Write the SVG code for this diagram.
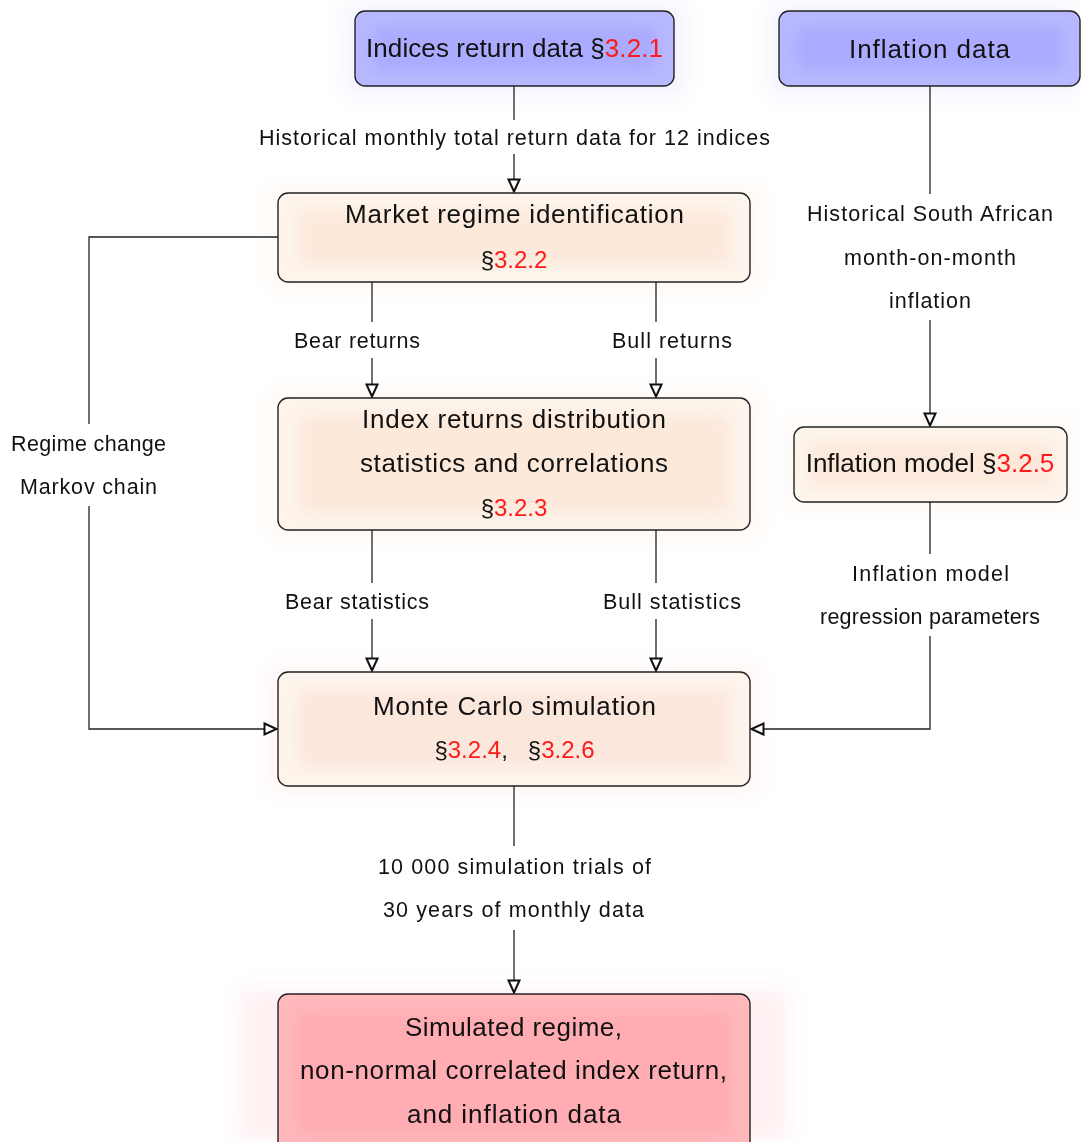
<svg xmlns="http://www.w3.org/2000/svg" width="1081" height="1142" viewBox="0 0 1081 1142">
  <defs>
    <style>
      .ntext { font-family: "Liberation Sans", Arial, sans-serif; font-size: 26px; fill: #111; text-anchor: middle; }
      .stext { font-family: "Liberation Sans", Arial, sans-serif; font-size: 24px; fill: #111; text-anchor: middle; }
      .ltext { font-family: "Liberation Sans", Arial, sans-serif; font-size: 21.5px; fill: #111; text-anchor: middle; }
      .ref { fill: #ff1a1a; }
      .wire { fill: none; stroke: #222; stroke-width: 1.3; }
      .edge { fill: none; stroke: #222; stroke-width: 1.4; }
      .lbg { fill: #ffffff; }
    </style>
    <filter id="soft" x="-20%" y="-40%" width="140%" height="180%">
      <feGaussianBlur stdDeviation="10"/>
    </filter>
    <filter id="inner" x="-5%" y="-10%" width="110%" height="120%">
      <feGaussianBlur stdDeviation="7"/>
    </filter>
    <marker id="tri" viewBox="0 0 16 16" refX="14.5" refY="8" markerWidth="16" markerHeight="16" markerUnits="userSpaceOnUse" orient="auto">
      <path d="M2,2.5 L14,8 L2,13.5 Z" fill="#fff" stroke="#111" stroke-width="2" stroke-linejoin="miter"/>
    </marker>
  </defs>

  <rect width="1081" height="1142" fill="#ffffff"/>

  <!-- soft colour haze around the boxes -->
  <g opacity="0.22">
    <rect x="345" y="5" width="340" height="90" fill="#c8c8ff" filter="url(#soft)"/>
    <rect x="770" y="5" width="311" height="90" fill="#c8c8ff" filter="url(#soft)"/>
    <rect x="268" y="185" width="492" height="105" fill="#fde2cc" filter="url(#soft)"/>
    <rect x="268" y="390" width="492" height="148" fill="#fde2cc" filter="url(#soft)"/>
    <rect x="785" y="420" width="290" height="90" fill="#fde2cc" filter="url(#soft)"/>
    <rect x="268" y="664" width="492" height="130" fill="#fcd8d0" filter="url(#soft)"/>
    <rect x="240" y="988" width="548" height="154" fill="#ffc0c8" filter="url(#soft)"/>
  </g>

  <!-- connectors -->
  <g id="connectors">
    <path class="wire" d="M514,86 V192" marker-end="url(#tri)"/>
    <path class="wire" d="M930,86 V426" marker-end="url(#tri)"/>
    <path class="wire" d="M372,282 V397" marker-end="url(#tri)"/>
    <path class="wire" d="M656,282 V397" marker-end="url(#tri)"/>
    <path class="wire" d="M372,530 V671" marker-end="url(#tri)"/>
    <path class="wire" d="M656,530 V671" marker-end="url(#tri)"/>
    <path class="wire" d="M278,237 H89 V729 H277" marker-end="url(#tri)"/>
    <path class="wire" d="M930,502 V729 H751" marker-end="url(#tri)"/>
    <path class="wire" d="M514,786 V993" marker-end="url(#tri)"/>

    <!-- label backgrounds break the wires -->
    <rect class="lbg" x="254" y="120" width="521" height="34"/>
    <rect class="lbg" x="802" y="194" width="256" height="126"/>
    <rect class="lbg" x="289" y="322" width="136" height="36"/>
    <rect class="lbg" x="607" y="322" width="130" height="36"/>
    <rect class="lbg" x="280" y="583" width="154" height="36"/>
    <rect class="lbg" x="598" y="583" width="148" height="36"/>
    <rect class="lbg" x="6" y="424" width="166" height="82"/>
    <rect class="lbg" x="815" y="554" width="230" height="82"/>
    <rect class="lbg" x="373" y="846" width="283" height="84"/>

    <text class="ltext" x="514.5" y="145" textLength="511" lengthAdjust="spacing">Historical monthly total return data for 12 indices</text>
    <text class="ltext" x="930" y="221" textLength="246" lengthAdjust="spacing">Historical South African</text>
    <text class="ltext" x="930" y="265" textLength="172" lengthAdjust="spacing">month-on-month</text>
    <text class="ltext" x="930" y="308" textLength="82" lengthAdjust="spacing">inflation</text>
    <text class="ltext" x="357" y="348" textLength="126" lengthAdjust="spacing">Bear returns</text>
    <text class="ltext" x="672" y="348" textLength="120" lengthAdjust="spacing">Bull returns</text>
    <text class="ltext" x="357" y="609" textLength="144" lengthAdjust="spacing">Bear statistics</text>
    <text class="ltext" x="672" y="609" textLength="138" lengthAdjust="spacing">Bull statistics</text>
    <text class="ltext" x="88.5" y="451" textLength="155" lengthAdjust="spacing">Regime change</text>
    <text class="ltext" x="88.5" y="494" textLength="137" lengthAdjust="spacing">Markov chain</text>
    <text class="ltext" x="930.5" y="581" textLength="157" lengthAdjust="spacing">Inflation model</text>
    <text class="ltext" x="930" y="624" textLength="220" lengthAdjust="spacing">regression parameters</text>
    <text class="ltext" x="514.5" y="874" textLength="273" lengthAdjust="spacing">10 000 simulation trials of</text>
    <text class="ltext" x="513.5" y="917" textLength="261" lengthAdjust="spacing">30 years of monthly data</text>
  </g>

  <!-- data sources -->
  <g id="indices-data">
    <rect x="355" y="11" width="319" height="75" rx="10" fill="#b8b8ff"/>
    <rect x="372" y="26" width="285" height="45" rx="8" fill="#a6a6ff" opacity="0.7" filter="url(#inner)"/>
    <rect class="edge" x="355" y="11" width="319" height="75" rx="10"/>
    <text class="ntext" x="514.5" y="57" textLength="297" lengthAdjust="spacing">Indices return data §<tspan class="ref">3.2.1</tspan></text>
  </g>

  <g id="inflation-data">
    <rect x="779" y="11" width="301" height="75" rx="10" fill="#b8b8ff"/>
    <rect x="796" y="26" width="267" height="45" rx="8" fill="#a6a6ff" opacity="0.7" filter="url(#inner)"/>
    <rect class="edge" x="779" y="11" width="301" height="75" rx="10"/>
    <text class="ntext" x="929.5" y="58" textLength="161" lengthAdjust="spacing">Inflation data</text>
  </g>

  <!-- processing steps -->
  <g id="regime-identification">
    <rect x="278" y="193" width="472" height="89" rx="10" fill="#fdf4ec"/>
    <rect x="298" y="210" width="432" height="55" rx="8" fill="#fbdcc6" opacity="0.45" filter="url(#inner)"/>
    <rect class="edge" x="278" y="193" width="472" height="89" rx="10"/>
    <text class="ntext" x="514.5" y="223" textLength="339" lengthAdjust="spacing">Market regime identification</text>
    <text class="stext" x="514" y="268">§<tspan class="ref">3.2.2</tspan></text>
  </g>

  <g id="return-statistics">
    <rect x="278" y="398" width="472" height="132" rx="10" fill="#fdf4ec"/>
    <rect x="298" y="415" width="432" height="98" rx="8" fill="#fbdcc6" opacity="0.45" filter="url(#inner)"/>
    <rect class="edge" x="278" y="398" width="472" height="132" rx="10"/>
    <text class="ntext" x="514" y="428" textLength="304" lengthAdjust="spacing">Index returns distribution</text>
    <text class="ntext" x="514" y="472" textLength="308" lengthAdjust="spacing">statistics and correlations</text>
    <text class="stext" x="514" y="516">§<tspan class="ref">3.2.3</tspan></text>
  </g>

  <g id="inflation-model">
    <rect x="794" y="427" width="273" height="75" rx="10" fill="#fdf4ec"/>
    <rect x="810" y="442" width="241" height="45" rx="8" fill="#fbdcc6" opacity="0.45" filter="url(#inner)"/>
    <rect class="edge" x="794" y="427" width="273" height="75" rx="10"/>
    <text class="ntext" x="930" y="472">Inflation model §<tspan class="ref">3.2.5</tspan></text>
  </g>

  <g id="monte-carlo">
    <rect x="278" y="672" width="472" height="114" rx="10" fill="#fdf4ec"/>
    <rect x="298" y="690" width="432" height="78" rx="8" fill="#fbd8cc" opacity="0.45" filter="url(#inner)"/>
    <rect class="edge" x="278" y="672" width="472" height="114" rx="10"/>
    <text class="ntext" x="514.5" y="715" textLength="283" lengthAdjust="spacing">Monte Carlo simulation</text>
    <text class="stext" x="514.5" y="758" xml:space="preserve">§<tspan class="ref">3.2.4</tspan>,   §<tspan class="ref">3.2.6</tspan></text>
  </g>

  <!-- output -->
  <g id="simulated-output">
    <rect x="278" y="994" width="472" height="160" rx="10" fill="#ffb8bc"/>
    <rect x="296" y="1012" width="436" height="124" rx="8" fill="#ffa8ae" opacity="0.7" filter="url(#inner)"/>
    <rect class="edge" x="278" y="994" width="472" height="160" rx="10"/>
    <text class="ntext" x="513.5" y="1036" textLength="217" lengthAdjust="spacing">Simulated regime,</text>
    <text class="ntext" x="513.5" y="1079" textLength="427" lengthAdjust="spacing">non-normal correlated index return,</text>
    <text class="ntext" x="514" y="1123" textLength="214" lengthAdjust="spacing">and inflation data</text>
  </g>
</svg>
